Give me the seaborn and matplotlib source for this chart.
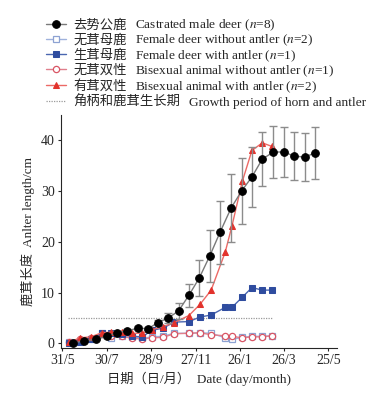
import seaborn as sns
import pandas as pd
from matplotlib import pyplot as plt
from matplotlib.transforms import IdentityTransform

# x values are days after 31 May
tick_days = [0, 60, 120, 180, 240, 299, 359]
tick_labels = ["31/5", "30/7", "28/9", "27/11", "26/1", "26/3", "25/5"]

# castrated male deer (mean and error)
male_days = [15, 30, 45, 60, 74, 88, 102, 116, 129, 143, 157, 171,
             185, 199, 213, 228, 242, 256, 270, 285, 299, 313, 327, 341]
male_len = [0.1, 0.5, 0.8, 1.4, 2.1, 2.5, 3.0, 2.9, 4.1, 5.0, 6.4, 9.5,
            12.9, 17.2, 21.9, 26.7, 30.0, 32.8, 36.3, 37.7, 37.7, 36.9, 36.7, 37.5]
male_err = [0.1, 0.1, 0.2, 0.3, 0.3, 0.3, 0.4, 0.3, 0.5, 0.9, 1.6, 2.3,
            3.6, 5.1, 6.2, 6.7, 6.5, 5.9, 5.3, 5.1, 4.9, 4.7, 4.8, 5.1]

# the other groups share the same measuring days
group_days = [9, 24, 39, 53, 66, 81, 94, 108, 121, 136, 151, 171,
              186, 201, 220, 229, 243, 256, 270, 283]
female_no = [0.2, 0.5, 0.8, 2.0, 1.0, 1.5, 1.3, 1.0, 1.3, 1.4, 2.0, 2.0,
             2.1, 2.0, 1.1, 0.8, 1.2, 1.4, 1.4, 1.5]
female_with = [0.1, 0.3, 0.8, 2.0, 2.0, 1.8, 1.4, 1.3, 2.6, 3.0, 4.2, 4.3,
               5.2, 5.6, 7.1, 7.1, 9.1, 11.0, 10.5, 10.5]
bisex_no = [0.3, 0.8, 1.0, 1.9, 1.5, 1.4, 1.0, 0.9, 1.1, 1.2, 1.9, 2.0,
            2.1, 1.7, 1.5, 1.4, 1.1, 1.3, 1.3, 1.5]
bisex_with = [0.2, 1.1, 1.3, 2.1, 2.2, 2.3, 2.0, 2.0, 2.7, 3.3, 4.1, 5.5,
              7.7, 10.5, 18.0, 23.1, 31.9, 38.0, 39.5, 38.8]

# growth period of horn and antler
growth_days = [8, 283]
growth_len = [5, 5]

labels_cn = ["去势公鹿", "无茸母鹿", "生茸母鹿", "无茸双性", "有茸双性", "角柄和鹿茸生长期"]
labels_en = [
    "Castrated male deer ($n$=8)",
    "Female deer without antler ($n$=2)",
    "Female deer with antler ($n$=1)",
    "Bisexual animal without antler ($n$=1)",
    "Bisexual animal with antler ($n$=2)",
    "Growth period of horn and antler",
]

sns.set_style("ticks")
plt.rcParams['font.family'] = ['Liberation Serif', 'Noto Sans CJK SC']
plt.rcParams['mathtext.fontset'] = 'stix'

fig = plt.figure(figsize=(3.75, 3.95), dpi=100)
ax = fig.add_axes([0.163, 0.119, 0.736, 0.590])

sns.lineplot(x=growth_days, y=growth_len, ax=ax, color="#9a9a9a", lw=0.9,
             linestyle=(0, (1, 1)), label=labels_cn[5], zorder=1)
sns.lineplot(x=group_days, y=female_no, ax=ax, color="#9fb2dc", lw=1,
             marker="s", markersize=4.5, markerfacecolor="white",
             markeredgecolor="#8da2d2", markeredgewidth=0.9, label=labels_cn[1], zorder=2)
sns.lineplot(x=group_days, y=bisex_no, ax=ax, color="#e07f8c", lw=1,
             marker="o", markersize=4.5, markerfacecolor="white",
             markeredgecolor="#d95665", markeredgewidth=0.9, label=labels_cn[3], zorder=3)
sns.lineplot(x=group_days, y=female_with, ax=ax, color="#4a66b0", lw=1,
             marker="s", markersize=4.5, markerfacecolor="#2f4c9f",
             markeredgecolor="#2f4c9f", label=labels_cn[2], zorder=4)
sns.lineplot(x=group_days, y=bisex_with, ax=ax, color="#ec6a66", lw=1,
             marker="^", markersize=5, markerfacecolor="#e2322c",
             markeredgecolor="#e2322c", label=labels_cn[4], zorder=5)
ax.errorbar(male_days, male_len, yerr=male_err, fmt="none", ecolor="#8c8c8c",
            elinewidth=1, capsize=3, capthick=1, zorder=6)
sns.lineplot(x=male_days, y=male_len, ax=ax, color="#7a7a7a", lw=1,
             marker="o", markersize=5.5, markerfacecolor="black",
             markeredgecolor="black", label=labels_cn[0], zorder=7)

ax.set_xlim(-1.5, 371)
ax.set_ylim(-0.9, 45)
ax.set_xticks(tick_days)
ax.set_xticklabels(tick_labels)
ax.set_yticks([0, 10, 20, 30, 40])
ax.tick_params(axis="both", labelsize=10, length=2.5, width=0.8, pad=2)
sns.despine(ax=ax)
ax.spines["left"].set_linewidth(0.8)
ax.spines["bottom"].set_linewidth(0.8)

ax.set_xlabel("日期（日/月）  Date (day/month)", fontsize=9.5, labelpad=3)
ax.set_ylabel("鹿茸长度  Anlter length/cm", fontsize=9.5, labelpad=4)

# legend above the plot, in the reference order
handles, names = ax.get_legend_handles_labels()
order = [names.index(l) for l in labels_cn]
ax.get_legend().remove()
leg = fig.legend([handles[i] for i in order], [names[i] for i in order],
                 loc="upper left", bbox_to_anchor=(0.122, 0.952), frameon=False,
                 fontsize=9.6, handlelength=1.5, handletextpad=0.6,
                 labelspacing=0.21, borderpad=0, borderaxespad=0)

# english part of each entry (mathtext cannot fall back to the CJK font)
fig.canvas.draw()
renderer = fig.canvas.get_renderer()
for t, eng in zip(leg.get_texts(), labels_en):
    bb = t.get_window_extent(renderer)
    x0, y0 = t.get_transform().transform(t.get_position())
    fig.text(bb.x1 + 8, y0, eng, transform=IdentityTransform(),
             fontsize=9.6, va="baseline", ha="left")

plt.savefig("out.png", dpi=100)
